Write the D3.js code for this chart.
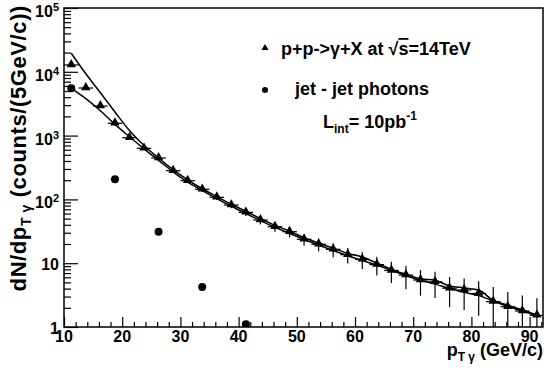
<!DOCTYPE html>
<html>
<head>
<meta charset="utf-8">
<script src="https://cdn.jsdelivr.net/npm/d3@7"></script>
<style>
  body { margin: 0; background: #fff; }
  svg { display: block; }
  text { font-family: "Liberation Sans", Arial, Helvetica, sans-serif; font-weight: bold; fill: #000; }
  .axis path { display: none; }
  .axis line { stroke: #000; stroke-width: 1.2; }
</style>
</head>
<body>
<div id="chart-container"></div>
<script>
// bin centres (GeV/c), 2.5 GeV wide bins
var ptBins = [11.25, 13.75, 16.25, 18.75, 21.25, 23.75, 26.25, 28.75, 31.25, 33.75,
              36.25, 38.75, 41.25, 43.75, 46.25, 48.75, 51.25, 53.75, 56.25, 58.75,
              61.25, 63.75, 66.25, 68.75, 71.25, 73.75, 76.25, 78.75, 81.25, 83.75,
              86.25, 88.75, 91.25];

// p+p -> gamma+X (triangles)
var promptCounts = [12800, 5570, 2910, 1560, 927, 632, 446, 282, 196, 144,
                    108, 81.6, 62.7, 47.5, 37.3, 31.2, 23.7, 19.8, 16.5, 13.6,
                    11.5, 9.5, 7.7, 6.5, 5.45, 5.1, 4.05, 3.8, 3.35, 2.5,
                    2.08, 1.78, 1.52];
var promptErrors = [113, 75, 54, 39, 30, 25, 21, 17, 14, 12,
                    10.4, 9, 7.9, 6.9, 6.1, 5.6, 4.9, 4.4, 4.1, 3.7,
                    3.4, 3.1, 2.8, 2.6, 2.35, 2.25, 2.0, 1.95, 1.85, 1.75,
                    1.45, 1.35, 1.3];

// jet-jet photons (circles)
var jetBins = [11.25, 18.75, 26.25, 33.75, 41.25];
var jetCounts = [5500, 207, 31.2, 4.24, 1.1];

// the two solid curves
var curveUpper = [19500, 9300, 4700, 2350, 1200, 700, 445, 292, 202, 147,
                  111, 84, 65, 50, 39, 31.8, 25, 20.7, 17.2, 14.2,
                  12.5, 10, 8.0, 6.7, 5.7, 5.4, 4.4, 4.1, 3.8, 2.6,
                  2.2, 1.85, 1.55];
var curveLower = [5500, 3800, 2450, 1500, 960, 620, 410, 270, 186, 138,
                  103, 78, 60, 46.5, 36.5, 29.5, 23.5, 19.3, 15.8, 13.1,
                  11, 9.3, 7.7, 6.4, 5.4, 4.7, 4.0, 3.5, 3.1, 2.55,
                  2.1, 1.78, 1.5];

var xMajor = [10, 20, 30, 40, 50, 60, 70, 80, 90];
var yDecades = [0, 1, 2, 3, 4, 5];

var W = 545, H = 369;
var pl = 64, pr = 543, pt = 8, pb = 327;

var svg = d3.select("#chart-container")
  .append("svg")
    .attr("width", W)
    .attr("height", H);

var x = d3.scaleLinear().domain([10, 92.3]).range([pl, pr]);
var y = d3.scaleLog().domain([1, 1e5]).range([pb, pt]);

svg.append("defs").append("clipPath").attr("id", "plotclip")
  .append("rect")
    .attr("x", pl).attr("y", pt)
    .attr("width", pr - pl).attr("height", pb - pt);

// ---- axes ----
var xMinor = d3.range(10, 92.3, 2).filter(function(v) { return v % 10 !== 0; });

svg.append("g").attr("class", "axis")
    .attr("transform", "translate(0," + pb + ")")
    .call(d3.axisBottom(x).tickValues(xMajor).tickSize(-10).tickFormat(""));
svg.append("g").attr("class", "axis")
    .attr("transform", "translate(0," + pb + ")")
    .call(d3.axisBottom(x).tickValues(xMinor).tickSize(-5).tickFormat(""));

var yMajorVals = yDecades.map(function(e) { return Math.pow(10, e); });
var yMinorVals = [];
yDecades.slice(0, -1).forEach(function(e) {
  for (var m = 2; m < 10; m++) yMinorVals.push(m * Math.pow(10, e));
});

svg.append("g").attr("class", "axis")
    .attr("transform", "translate(" + pl + ",0)")
    .call(d3.axisLeft(y).tickValues(yMajorVals).tickSize(-14).tickFormat(""));
svg.append("g").attr("class", "axis")
    .attr("transform", "translate(" + pl + ",0)")
    .call(d3.axisLeft(y).tickValues(yMinorVals).tickSize(-7).tickFormat(""));

// frame
svg.append("rect")
    .attr("x", pl).attr("y", pt)
    .attr("width", pr - pl).attr("height", pb - pt)
    .style("fill", "none")
    .style("stroke", "#000")
    .style("stroke-width", 1.5);

// x tick labels
svg.selectAll(".xlab")
    .data(xMajor)
  .enter().append("text")
    .attr("class", "xlab")
    .attr("x", function(d) { return x(d); })
    .attr("y", 342)
    .attr("text-anchor", "middle")
    .style("font-size", "16px")
    .text(function(d) { return d; });

// y tick labels with superscripts
yDecades.forEach(function(e) {
  var t = svg.append("text")
      .attr("x", 59)
      .attr("y", y(Math.pow(10, e)) + (e > 1 ? 9 : 7))
      .attr("text-anchor", "end")
      .style("font-size", "16px");
  if (e === 0) { t.text("1"); return; }
  if (e === 1) { t.text("10"); return; }
  t.append("tspan").text("10");
  t.append("tspan").attr("dy", -6).style("font-size", "11px").text(e);
});

// axis titles
var xt = svg.append("text")
    .attr("x", 543)
    .attr("y", 356)
    .attr("text-anchor", "end")
    .style("font-size", "18px");
xt.append("tspan").text("p");
xt.append("tspan").attr("dy", 5).style("font-size", "12px").text("T \u03b3");
xt.append("tspan").attr("dy", -5).text(" (GeV/c)");

var yt = svg.append("text")
    .attr("transform", "translate(26,5) rotate(-90)")
    .attr("text-anchor", "end")
    .style("font-size", "22px")
    .style("letter-spacing", "0.6px");
yt.append("tspan").text("dN/dp");
yt.append("tspan").attr("dy", 5).style("font-size", "14px").text("T \u03b3");
yt.append("tspan").attr("dy", -5).text(" (counts/(5GeV/c))");

// ---- data ----
var plot = svg.append("g").attr("clip-path", "url(#plotclip)");

var line = d3.line()
    .curve(d3.curveMonotoneX)
    .x(function(d) { return x(d[0]); })
    .y(function(d) { return y(d[1]); });

[curveUpper, curveLower].forEach(function(c) {
  plot.append("path")
      .datum(ptBins.map(function(p, i) { return [p, c[i]]; }))
      .attr("d", line)
      .style("fill", "none")
      .style("stroke", "#000")
      .style("stroke-width", 1.5);
});

var prompt = ptBins.map(function(p, i) {
  return { x: p, v: promptCounts[i], e: promptErrors[i] };
});

// error bars
plot.selectAll(".ey")
    .data(prompt)
  .enter().append("line")
    .attr("x1", function(d) { return x(d.x); })
    .attr("x2", function(d) { return x(d.x); })
    .attr("y1", function(d) { return d.v - d.e > 0.5 ? y(d.v - d.e) : pb + 5; })
    .attr("y2", function(d) { return y(d.v + d.e); })
    .style("stroke", "#000")
    .style("stroke-width", 1.2);

plot.selectAll(".ex")
    .data(prompt)
  .enter().append("line")
    .attr("x1", function(d) { return x(d.x - 1.25); })
    .attr("x2", function(d) { return x(d.x + 1.25); })
    .attr("y1", function(d) { return y(d.v); })
    .attr("y2", function(d) { return y(d.v); })
    .style("stroke", "#000")
    .style("stroke-width", 1.2);

var tri = d3.symbol().type(d3.symbolTriangle).size(38);

plot.selectAll(".tri")
    .data(prompt)
  .enter().append("path")
    .attr("d", tri)
    .attr("transform", function(d) { return "translate(" + x(d.x) + "," + (y(d.v) - 0.5) + ")"; })
    .style("fill", "#000");

plot.selectAll(".jet")
    .data(jetBins)
  .enter().append("circle")
    .attr("cx", function(d) { return x(d); })
    .attr("cy", function(d, i) { return y(jetCounts[i]); })
    .attr("r", 4)
    .style("fill", "#000");

// ---- legend ----
svg.append("path")
    .attr("d", d3.symbol().type(d3.symbolTriangle).size(22))
    .attr("transform", "translate(265,48)")
    .style("fill", "#000");
var l1 = svg.append("text")
    .attr("x", 281)
    .attr("y", 55)
    .style("font-size", "18px");
l1.append("tspan").text("p+p->\u03b3+X at \u221a");
l1.append("tspan").style("text-decoration", "overline").text("s");
l1.append("tspan").text("=14TeV");

svg.append("circle")
    .attr("cx", 265).attr("cy", 90).attr("r", 3)
    .style("fill", "#000");
svg.append("text")
    .attr("x", 295)
    .attr("y", 95)
    .style("font-size", "18px")
    .text("jet - jet photons");

var l3 = svg.append("text")
    .attr("x", 323)
    .attr("y", 128)
    .style("font-size", "18px");
l3.append("tspan").text("L");
l3.append("tspan").attr("dy", 5).style("font-size", "12px").text("int");
l3.append("tspan").attr("dy", -5).text("= 10pb");
l3.append("tspan").attr("dy", -8).style("font-size", "12px").text("-1");
</script>
</body>
</html>
